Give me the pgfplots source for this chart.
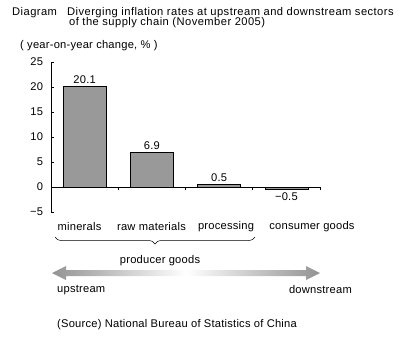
\documentclass[border=0pt]{standalone}
\usepackage{pgfplots}
\pgfplotsset{compat=1.18}
\usepackage{fontspec}
\setmainfont{Liberation Sans}[LetterSpace=2]
\newfontfamily\titlefont{Liberation Sans}[LetterSpace=4]
\usetikzlibrary{decorations.pathreplacing}
\definecolor{bargray}{RGB}{153,153,153}
\begin{document}
\fontsize{11.2}{11}\selectfont
\begin{tikzpicture}
\useasboundingbox (0bp,0bp) rectangle (409bp,-344bp);
% title
\node[anchor=west,inner sep=0pt] at (12bp,-12.5bp) {\titlefont Diagram};
\node[anchor=west,inner sep=0pt] at (67bp,-12.5bp) {\titlefont Diverging inflation rates at upstream and downstream sectors};
\node[anchor=west,inner sep=0pt] at (69bp,-22.5bp) {\titlefont of the supply chain (November 2005)};
\node[anchor=west,inner sep=0pt] at (20bp,-46bp) {( year-on-year change, \% )};
\begin{axis}[
  at={(51bp,-212bp)}, anchor=south west,
  scale only axis, width=269bp, height=150bp,
  xmin=-0.5, xmax=3.5, ymin=-5, ymax=25,
  axis y line*=left, axis x line*=middle,
  ytick={-5,0,5,10,15,20,25},
  yticklabels={−5,0,5,10,15,20,25},
  xtick={0.5,1.5,2.5,3.5}, xticklabels={},
  tick align=inside,
  major tick length=2.5bp,
  tick style={black, line width=0.6pt},
  axis line style={black, line width=0.6pt},
  y axis line style={-},
  x axis line style={-},
  yticklabel style={font=\fontsize{11.2}{11}\selectfont, xshift=-4bp},
  /pgf/number format/assume math mode=true,
  clip=false,
  ybar, bar width=43bp, bar shift=0pt,
  nodes near coords,
  point meta=explicit symbolic,
  every node near coord/.style={font=\fontsize{11.2}{11}\selectfont, inner sep=2.5bp},
]
\addplot[fill=bargray, draw=black, line width=0.6pt] coordinates {
  (0,20.1) [20.1]
  (1,6.9) [6.9]
  (2,0.5) [0.5]
};
\addplot[fill=bargray, draw=black, line width=0.6pt,
  every node near coord/.append style={anchor=north}] coordinates {
  (3,-0.5) [−0.5]
};
\end{axis}
% category labels
\node[inner sep=0pt] at (79.5bp,-227bp) {minerals};
\node[inner sep=0pt] at (151.5bp,-227bp) {raw materials};
\node[inner sep=0pt] at (226bp,-227bp) {processing};
\node[inner sep=0pt] at (312bp,-227bp) {consumer goods};
% brace
\draw[decorate, decoration={brace, amplitude=7bp, mirror}, line width=0.5pt] (55bp,-237bp) -- (255bp,-237bp);
\node[inner sep=0pt] at (160bp,-261bp) {producer goods};
% arrow
\shade[left color=gray!85, right color=gray!85, middle color=white]
  (52bp,-273bp) -- (66bp,-266bp) -- (66bp,-270bp) -- (306bp,-270bp) -- (306bp,-266bp)
  -- (320bp,-273bp) -- (306bp,-280bp) -- (306bp,-276bp) -- (66bp,-276bp) -- (66bp,-280bp) -- cycle;
\node[anchor=west,inner sep=0pt] at (57bp,-290bp) {upstream};
\node[anchor=east,inner sep=0pt] at (352bp,-290bp) {downstream};
\node[anchor=west,inner sep=0pt] at (57bp,-325bp) {(Source) National Bureau of Statistics of China};
\end{tikzpicture}
\end{document}
